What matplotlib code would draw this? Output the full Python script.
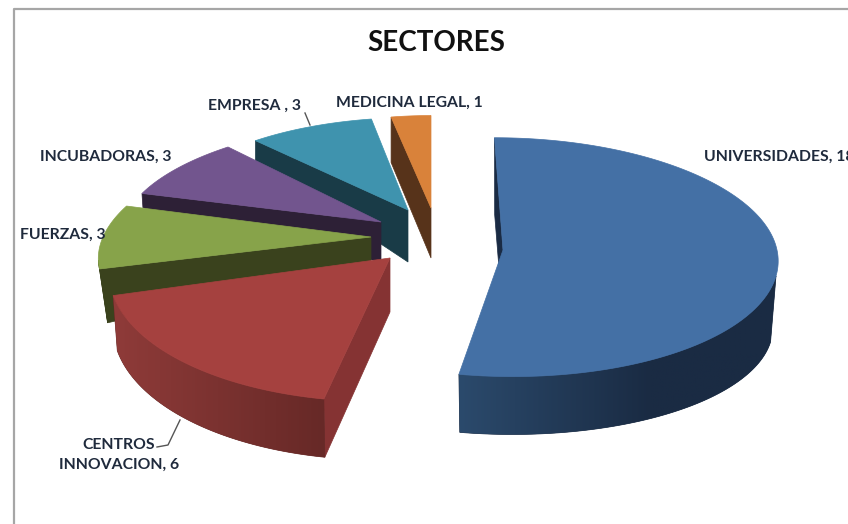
import numpy as np
from matplotlib import pyplot as plt
from matplotlib.colors import to_rgb

plt.rcParams['font.family'] = ['Lato', 'DejaVu Sans']

# Chart values
sectors = ['UNIVERSIDADES', 'CENTROS\nINNOVACION', 'FUERZAS', 'INCUBADORAS', 'EMPRESA ', 'MEDICINA LEGAL']
values = [18, 6, 3, 3, 3, 1]

# Colours per slice: top face, wall, rim light end, rim dark end
top_colors = ['#4470a5', '#a5413f', '#87a34a', '#72558e', '#3f93ae', '#d9823a']
wall_colors = ['#1a2b44', '#853333', '#3a421d', '#2d2036', '#193b47', '#57331a']
rim_light = ['#2b4a6c', '#8f3b39', '#3a421d', '#2d2036', '#193b47', '#57331a']
rim_dark = ['#1a2b43', '#672927', '#3a421d', '#2d2036', '#193b47', '#57331a']
rim_fade_x = [(458, 650), (113, 323), (99, 130), (142, 228), (255, 372), (390, 431)]

# Where each exploded slice sits on the canvas (pixels), and how it is stretched
apex_x = [503, 390, 371, 381, 408, 431]
apex_y = [250, 258, 237, 222, 210, 208]
radius_x = [274, 280, 268, 258, 243, 230]
radius_y = [119, 135, 115, 106, 98, 98]
shear = [-9, 11, 34, 19, 6, 0]
depth = [68, 54, 25, 40, 52, 50]
bottom_kx = [0.98, 0.985, 0.97, 0.996, 1.0, 1.0]
bottom_ky = [0.92, 1.03, 1.9, 1.9, 1.46, 1.05]
perspective = 0.06

# Label placement
label_x = [704, 119, 20, 40, 208, 336]
label_y = [157, 455, 235, 157, 106, 103]
label_align = ['left', 'center', 'left', 'left', 'left', 'left']
leader_lines = [([305, 310], [113, 125]), ([157, 168, 180], [447, 445, 420])]


def project(i, theta, bottom=False):
    # Pie plate point to canvas pixels, with a bit of perspective
    px = np.sin(theta)
    py = np.cos(theta)
    w = 1 + perspective * py
    kx = bottom_kx[i] if bottom else 1.0
    ky = bottom_ky[i] if bottom else 1.0
    x = apex_x[i] + kx * (radius_x[i] * px + shear[i] * py) / w
    y = apex_y[i] - ky * radius_y[i] * py / w
    if bottom:
        y = y + depth[i]
    return x, y


fig = plt.figure(figsize=(8.48, 5.24), dpi=100)
ax = fig.add_axes([0, 0, 1, 1])
ax.axis('off')

# Frame of the chart area, cut by the screenshot on the right and bottom
ax.plot([14, 14, 848], [524, 9, 9], color='#a6a6a6', lw=1.6)

edges = np.radians(np.concatenate([[0], np.cumsum(values)]) / sum(values) * 360)

# Back slices first so the front ones cover them
for i in range(len(values) - 1, -1, -1):
    thetas = np.linspace(edges[i], edges[i + 1], 200)
    tx, ty = project(i, thetas)

    # Wall along the first edge of the slice
    rim_x, rim_y = project(i, edges[i])
    low_x, low_y = project(i, edges[i], bottom=True)
    ax.fill([apex_x[i], rim_x, low_x, apex_x[i]],
            [apex_y[i], rim_y, low_y, apex_y[i] + depth[i]],
            color=wall_colors[i], lw=0.5)

    # Outer rim, only the part that faces the viewer, shaded from left to right
    front = thetas[np.cos(thetas) < -0.2]
    if len(front) > 1:
        fx, fy = project(i, front)
        bx, by = project(i, front, bottom=True)
        band = ax.fill(np.concatenate([fx, bx[::-1]]), np.concatenate([fy, by[::-1]]),
                       color=rim_dark[i], lw=0.5)[0]
        x0 = min(fx.min(), bx.min())
        x1 = max(fx.max(), bx.max())
        xs = np.linspace(x0, x1, 256)
        t = np.clip((xs - rim_fade_x[i][0]) / (rim_fade_x[i][1] - rim_fade_x[i][0]), 0, 1)[:, None]
        shade = np.array(to_rgb(rim_light[i])) * (1 - t) + np.array(to_rgb(rim_dark[i])) * t
        im = ax.imshow(shade[None, :, :], extent=[x0, x1, by.max() + 1, min(fy.min(), by.min()) - 1],
                       aspect='auto', zorder=band.get_zorder())
        im.set_clip_path(band)

    # Top face
    ax.fill(np.concatenate([[apex_x[i]], tx]), np.concatenate([[apex_y[i]], ty]),
            color=top_colors[i], lw=0.5, zorder=1.5)

# imshow moves the limits, so fix the pixel canvas only now
ax.set_xlim(0, 848)
ax.set_ylim(524, 0)

for lx, ly in leader_lines:
    ax.plot(lx, ly, color='#555555', lw=1)

for i, name in enumerate(sectors):
    ax.text(label_x[i], label_y[i], f'{name}, {values[i]}', ha=label_align[i], va='center',
            fontsize=11.3, fontweight='bold', color='#1f2a3c', linespacing=1.55)

ax.text(436, 43, 'SECTORES', ha='center', va='center', fontsize=20, fontweight='bold', color='#111111')

fig.savefig('out.png', dpi=100)
